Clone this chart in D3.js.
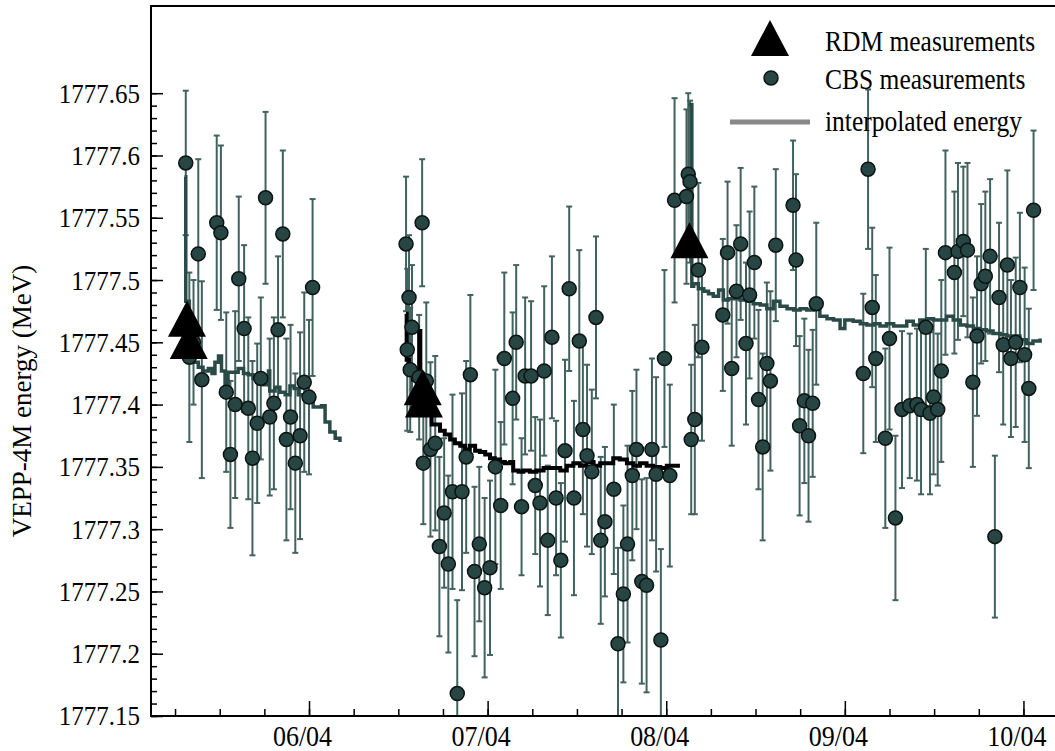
<!DOCTYPE html>
<html>
<head>
<meta charset="utf-8">
<script src="https://cdn.jsdelivr.net/npm/d3@7/dist/d3.min.js"></script>
<style>
body { margin: 0; background: #fff; }
text { font-family: "Liberation Serif", "Times New Roman", serif; }
</style>
</head>
<body>
<svg id="chart" width="1055" height="751"></svg>
<script>
// x in days from the 06/04 tick, y in MeV
var xDomain = [-26.54, 125.3];
var yDomain = [1777.15, 1777.72];

var xMajor = [0, 30, 60, 90, 120];
var xLabels = ["06/04", "07/04", "08/04", "09/04", "10/04"];
var yMajor = [1777.15, 1777.2, 1777.25, 1777.3, 1777.35, 1777.4, 1777.45, 1777.5, 1777.55, 1777.6, 1777.65];
var yLabels = ["1777.15", "1777.2", "1777.25", "1777.3", "1777.35", "1777.4", "1777.45", "1777.5", "1777.55", "1777.6", "1777.65"];

var legendLabels = ["RDM measurements", "CBS measurements", "interpolated energy"];
var yTitle = "VEPP-4M energy  (MeV)";

// RDM: [day, energy]
var rdmPoints = [
	[-20.5, 1777.469], [-20.2, 1777.451],
	[19.1, 1777.414], [19.3, 1777.404],
	[63.9, 1777.532]
];

// CBS: [day, energy, error]
var cbsPoints = [
	[-20.7, 1777.594, 0.058], [-20.1, 1777.438, 0.068], [-19.4, 1777.45, 0.05], [-18.6, 1777.521, 0.076],
	[-18.0, 1777.420, 0.079], [-15.5, 1777.546, 0.070], [-14.8, 1777.538, 0.070], [-13.9, 1777.410, 0.064],
	[-13.2, 1777.360, 0.059], [-12.4, 1777.400, 0.075], [-11.8, 1777.501, 0.066], [-10.9, 1777.461, 0.067],
	[-10.2, 1777.397, 0.073], [-9.5, 1777.357, 0.078], [-8.7, 1777.385, 0.064], [-8.1, 1777.421, 0.065],
	[-7.3, 1777.566, 0.069], [-6.6, 1777.390, 0.063], [-5.9, 1777.401, 0.069], [-5.2, 1777.460, 0.059],
	[-4.4, 1777.537, 0.067], [-3.8, 1777.372, 0.081], [-3.1, 1777.390, 0.074], [-2.3, 1777.353, 0.072],
	[-1.5, 1777.375, 0.083], [-0.8, 1777.418, 0.072], [0.0, 1777.406, 0.062], [0.6, 1777.494, 0.071],

	[16.3, 1777.529, 0.054], [16.5, 1777.444, 0.065], [16.8, 1777.486, 0.050], [17.0, 1777.428, 0.050],
	[17.3, 1777.462, 0.050], [18.5, 1777.422, 0.050], [19.0, 1777.546, 0.051], [19.2, 1777.353, 0.049],
	[19.7, 1777.419, 0.063], [20.4, 1777.364, 0.070], [21.2, 1777.369, 0.070], [21.9, 1777.286, 0.072],
	[22.7, 1777.313, 0.060], [23.4, 1777.272, 0.071], [24.1, 1777.330, 0.078], [24.9, 1777.168, 0.075],
	[25.7, 1777.330, 0.079], [26.4, 1777.358, 0.077], [27.1, 1777.424, 0.064], [27.8, 1777.266, 0.068],
	[28.6, 1777.288, 0.062], [29.5, 1777.253, 0.072], [30.4, 1777.269, 0.070], [31.3, 1777.350, 0.078],
	[32.2, 1777.319, 0.067], [32.8, 1777.437, 0.069], [34.2, 1777.405, 0.069], [34.8, 1777.450, 0.062],
	[35.7, 1777.318, 0.055], [36.3, 1777.423, 0.063], [37.3, 1777.423, 0.060], [38.0, 1777.335, 0.055],
	[38.8, 1777.321, 0.067], [39.5, 1777.427, 0.068], [40.1, 1777.291, 0.060], [40.8, 1777.454, 0.065],
	[41.5, 1777.325, 0.062], [42.3, 1777.275, 0.062], [43.0, 1777.363, 0.073], [43.7, 1777.493, 0.066],
	[44.5, 1777.325, 0.078], [45.4, 1777.451, 0.073], [46.0, 1777.380, 0.068], [46.7, 1777.359, 0.073],
	[47.5, 1777.346, 0.066], [48.2, 1777.470, 0.065], [49.0, 1777.291, 0.067], [49.7, 1777.306, 0.060],
	[51.2, 1777.332, 0.068], [51.9, 1777.208, 0.077], [52.8, 1777.248, 0.071], [53.5, 1777.288, 0.079],
	[54.3, 1777.343, 0.068], [55.0, 1777.364, 0.064], [55.9, 1777.258, 0.082], [56.7, 1777.255, 0.086],
	[57.6, 1777.364, 0.073], [58.3, 1777.344, 0.078], [59.1, 1777.211, 0.073], [59.7, 1777.437, 0.071],
	[60.6, 1777.343, 0.073], [61.4, 1777.564, 0.082],

	[63.4, 1777.567, 0.070], [63.7, 1777.585, 0.065], [64.0, 1777.579, 0.065], [64.2, 1777.372, 0.060],
	[64.8, 1777.388, 0.076], [65.4, 1777.508, 0.070], [66.0, 1777.446, 0.075],
	[69.5, 1777.472, 0.061], [70.3, 1777.522, 0.057], [71.0, 1777.429, 0.062], [71.8, 1777.491, 0.053],
	[72.5, 1777.529, 0.061], [73.4, 1777.449, 0.065], [74.0, 1777.488, 0.067], [74.8, 1777.514, 0.061],
	[75.5, 1777.404, 0.072], [76.2, 1777.366, 0.075], [76.9, 1777.433, 0.065], [77.5, 1777.419, 0.072],
	[78.4, 1777.528, 0.061], [81.3, 1777.560, 0.052], [81.8, 1777.516, 0.069], [82.4, 1777.383, 0.072],
	[83.2, 1777.403, 0.066], [83.9, 1777.375, 0.069], [84.6, 1777.401, 0.059], [85.2, 1777.481, 0.065],
	[93.1, 1777.425, 0.064], [93.9, 1777.589, 0.064], [94.6, 1777.478, 0.064], [95.2, 1777.437, 0.067],
	[96.8, 1777.373, 0.072], [97.5, 1777.453, 0.073], [98.5, 1777.309, 0.066], [99.6, 1777.396, 0.063],
	[100.9, 1777.399, 0.058], [102.1, 1777.400, 0.061], [102.8, 1777.396, 0.068], [103.6, 1777.462, 0.063],
	[104.3, 1777.393, 0.065], [104.9, 1777.406, 0.062], [105.6, 1777.396, 0.061], [106.2, 1777.427, 0.073],
	[106.9, 1777.522, 0.082], [108.4, 1777.506, 0.065], [109.0, 1777.523, 0.071], [109.9, 1777.531, 0.060],
	[110.6, 1777.524, 0.070], [111.5, 1777.418, 0.068], [112.2, 1777.455, 0.064], [112.9, 1777.497, 0.064],
	[113.6, 1777.503, 0.068], [114.4, 1777.519, 0.062], [115.2, 1777.294, 0.065], [115.9, 1777.486, 0.060],
	[116.6, 1777.448, 0.064], [117.3, 1777.512, 0.076], [117.9, 1777.437, 0.063], [118.7, 1777.450, 0.068],
	[119.4, 1777.494, 0.060], [120.2, 1777.440, 0.070], [120.9, 1777.413, 0.064], [121.7, 1777.556, 0.064]
];

// interpolated energy, three runs
var interp1 = [
	[-20.9, 1777.583], [-20.7, 1777.483], [-20.1, 1777.440], [-19.4, 1777.434], [-18.6, 1777.430],
	[-17.8, 1777.427], [-16.9, 1777.429], [-16.3, 1777.425], [-15.8, 1777.434], [-15.2, 1777.439],
	[-14.7, 1777.427], [-14.1, 1777.417], [-13.6, 1777.426], [-12.7, 1777.426], [-11.9, 1777.429],
	[-11.0, 1777.425], [-10.2, 1777.424], [-9.4, 1777.421], [-8.5, 1777.418], [-7.7, 1777.416],
	[-7.0, 1777.416], [-6.8, 1777.427], [-6.6, 1777.411], [-5.7, 1777.414], [-4.9, 1777.410],
	[-4.0, 1777.408], [-3.2, 1777.415], [-2.5, 1777.413], [-1.8, 1777.408], [-1.0, 1777.408],
	[-0.1, 1777.405], [0.7, 1777.398], [1.6, 1777.398], [2.1, 1777.399], [2.7, 1777.386],
	[3.5, 1777.378], [4.4, 1777.373], [5.2, 1777.370]
];
var interp2 = [
	[16.3, 1777.473], [16.4, 1777.436], [16.8, 1777.425], [17.5, 1777.420], [18.4, 1777.410],
	[18.5, 1777.459], [18.7, 1777.400], [18.8, 1777.396], [20.6, 1777.384], [22.0, 1777.379],
	[22.8, 1777.376], [23.7, 1777.372], [24.5, 1777.369], [25.4, 1777.367], [26.2, 1777.364],
	[27.0, 1777.367], [27.9, 1777.363], [28.7, 1777.362], [29.6, 1777.360], [30.4, 1777.357],
	[31.2, 1777.356], [32.1, 1777.354], [32.9, 1777.353], [33.8, 1777.354], [34.3, 1777.347],
	[35.2, 1777.346], [36.0, 1777.347], [37.1, 1777.346], [38.2, 1777.347], [39.4, 1777.349],
	[40.5, 1777.349], [41.0, 1777.349], [42.2, 1777.347], [43.3, 1777.351], [44.4, 1777.353],
	[45.5, 1777.351], [46.6, 1777.354], [47.8, 1777.351], [48.9, 1777.353], [50.0, 1777.353],
	[51.1, 1777.357], [52.2, 1777.356], [53.4, 1777.353], [54.5, 1777.351], [55.6, 1777.353],
	[56.7, 1777.351], [57.8, 1777.350], [59.0, 1777.349], [60.1, 1777.351], [61.2, 1777.351],
	[62.3, 1777.351]
];
var interp3 = [
	[63.8, 1777.641], [64.3, 1777.495], [64.6, 1777.497], [65.4, 1777.493], [66.3, 1777.491],
	[67.1, 1777.489], [67.9, 1777.487], [68.8, 1777.492], [69.6, 1777.484], [70.4, 1777.485],
	[71.3, 1777.485], [72.4, 1777.484], [73.5, 1777.483], [74.6, 1777.481], [75.8, 1777.480],
	[76.9, 1777.477], [78.0, 1777.483], [79.1, 1777.479], [80.3, 1777.477], [81.4, 1777.476],
	[82.5, 1777.477], [83.6, 1777.476], [84.7, 1777.479], [85.8, 1777.471], [87.0, 1777.469],
	[88.1, 1777.468], [89.2, 1777.461], [90.0, 1777.468], [91.4, 1777.467], [92.6, 1777.465],
	[93.7, 1777.464], [94.8, 1777.465], [95.9, 1777.463], [97.0, 1777.465], [98.2, 1777.463],
	[99.3, 1777.463], [100.4, 1777.467], [101.5, 1777.464], [102.6, 1777.468], [103.8, 1777.469],
	[104.9, 1777.468], [106.0, 1777.468], [107.1, 1777.471], [108.2, 1777.468], [109.4, 1777.464],
	[110.5, 1777.463], [111.6, 1777.461], [112.7, 1777.460], [113.8, 1777.459], [114.9, 1777.457],
	[116.1, 1777.456], [117.2, 1777.455], [118.3, 1777.455], [119.4, 1777.452], [120.5, 1777.449],
	[121.6, 1777.451], [122.8, 1777.453]
];

var slate = "#2a4a48";
var barColor = "#42625f";
var padLeft = 151, padRight = 1055, padTop = 6, padBottom = 716;
var stretch = "scale(1,1.12)";

var svg = d3.select("#chart");
var x = d3.scaleLinear().domain(xDomain).range([padLeft, padRight]);
var y = d3.scaleLinear().domain(yDomain).range([padBottom, padTop]);

svg.append("clipPath").attr("id", "plotclip")
	.append("rect")
	.attr("x", padLeft).attr("y", padTop)
	.attr("width", padRight - padLeft).attr("height", padBottom - padTop);

var plot = svg.append("g").attr("clip-path", "url(#plotclip)");

// error bars
var bars = plot.append("g")
	.attr("stroke", barColor)
	.attr("stroke-width", 2);

bars.selectAll("line.bar")
	.data(cbsPoints)
	.enter().append("line")
	.attr("class", "bar")
	.attr("x1", function(d) { return x(d[0]); })
	.attr("x2", function(d) { return x(d[0]); })
	.attr("y1", function(d) { return y(d[1] - d[2]); })
	.attr("y2", function(d) { return y(d[1] + d[2]); });

bars.selectAll("line.captop")
	.data(cbsPoints)
	.enter().append("line")
	.attr("class", "captop")
	.attr("x1", function(d) { return x(d[0]) - 3; })
	.attr("x2", function(d) { return x(d[0]) + 3; })
	.attr("y1", function(d) { return y(d[1] + d[2]); })
	.attr("y2", function(d) { return y(d[1] + d[2]); });

bars.selectAll("line.capbot")
	.data(cbsPoints)
	.enter().append("line")
	.attr("class", "capbot")
	.attr("x1", function(d) { return x(d[0]) - 3; })
	.attr("x2", function(d) { return x(d[0]) + 3; })
	.attr("y1", function(d) { return y(d[1] - d[2]); })
	.attr("y2", function(d) { return y(d[1] - d[2]); });

// interpolated energy
var line = d3.line()
	.x(function(d) { return x(d[0]); })
	.y(function(d) { return y(d[1]); })
	.curve(d3.curveStepAfter);

[interp1, interp3].forEach(function(seg) {
	plot.append("path")
		.attr("d", line(seg))
		.attr("fill", "none")
		.attr("stroke", slate)
		.attr("stroke-width", 3.5);
});

plot.append("path")
	.attr("d", line(interp2))
	.attr("fill", "none")
	.attr("stroke", "#000")
	.attr("stroke-width", 4);

// CBS markers
plot.selectAll("circle.cbs")
	.data(cbsPoints)
	.enter().append("circle")
	.attr("class", "cbs")
	.attr("cx", function(d) { return x(d[0]); })
	.attr("cy", function(d) { return y(d[1]); })
	.attr("r", 7)
	.attr("fill", "#264543")
	.attr("stroke", "#0b1413")
	.attr("stroke-width", 1.5);

// RDM markers
function triangle(cx, cy) {
	return "M" + cx + "," + (cy - 18) + "L" + (cx + 19) + "," + (cy + 18) + "L" + (cx - 19) + "," + (cy + 18) + "Z";
}

plot.selectAll("path.rdm")
	.data(rdmPoints)
	.enter().append("path")
	.attr("class", "rdm")
	.attr("d", function(d) { return triangle(x(d[0]), y(d[1])); })
	.attr("fill", "#000");

// axes
var yAxis = svg.append("g")
	.attr("transform", "translate(" + padLeft + ",0)")
	.call(d3.axisLeft(y)
		.tickValues(yMajor)
		.tickFormat(function(d, i) { return yLabels[i]; })
		.tickSize(-12)
		.tickPadding(11));

var yMinor = svg.append("g")
	.attr("transform", "translate(" + padLeft + ",0)")
	.call(d3.axisLeft(y)
		.tickValues(d3.range(0, 51).map(function(i) { return 1777.15 + i * 0.01; }))
		.tickFormat("")
		.tickSize(-6));

var xAxis = svg.append("g")
	.attr("transform", "translate(0," + padBottom + ")")
	.call(d3.axisBottom(x)
		.tickValues(xMajor)
		.tickFormat(function(d, i) { return xLabels[i]; })
		.tickSize(-15)
		.tickPadding(8));

var xMinor = svg.append("g")
	.attr("transform", "translate(0," + padBottom + ")")
	.call(d3.axisBottom(x)
		.tickValues(d3.range(-22.5, 126, 7.5))
		.tickFormat("")
		.tickSize(-7));

[yAxis, yMinor, xAxis, xMinor].forEach(function(g) {
	g.select(".domain").remove();
	g.selectAll(".tick line").attr("stroke", "#000").attr("stroke-width", 1.5);
	g.selectAll("text")
		.attr("fill", "#000")
		.style("font-family", "'Liberation Serif', 'Times New Roman', serif");
});
yAxis.selectAll("text").style("font-size", "25px").attr("transform", stretch);
xAxis.selectAll("text").style("font-size", "26px").attr("dx", "-7").attr("transform", stretch);

// frame
svg.append("path")
	.attr("d", "M" + padRight + "," + padTop + "H" + padLeft + "V" + padBottom + "H" + padRight)
	.attr("fill", "none")
	.attr("stroke", "#000")
	.attr("stroke-width", 2);

// y title
svg.append("text")
	.attr("transform", "translate(31,401) rotate(-90)")
	.attr("text-anchor", "middle")
	.style("font-size", "27px")
	.text(yTitle);

// legend
var legend = svg.append("g");
legend.append("path")
	.attr("d", triangle(770, 38))
	.attr("fill", "#000");
legend.append("circle")
	.attr("cx", 771).attr("cy", 78).attr("r", 7)
	.attr("fill", "#264543")
	.attr("stroke", "#0b1413")
	.attr("stroke-width", 1.5);
legend.append("line")
	.attr("x1", 730).attr("x2", 810)
	.attr("y1", 122).attr("y2", 122)
	.attr("stroke", "#888")
	.attr("stroke-width", 5);

legend.selectAll("text")
	.data(legendLabels)
	.enter().append("text")
	.attr("transform", function(d, i) { return "translate(825," + [51, 89, 131][i] + ") " + stretch; })
	.style("font-size", "25.5px")
	.text(function(d) { return d; });
</script>
</body>
</html>
